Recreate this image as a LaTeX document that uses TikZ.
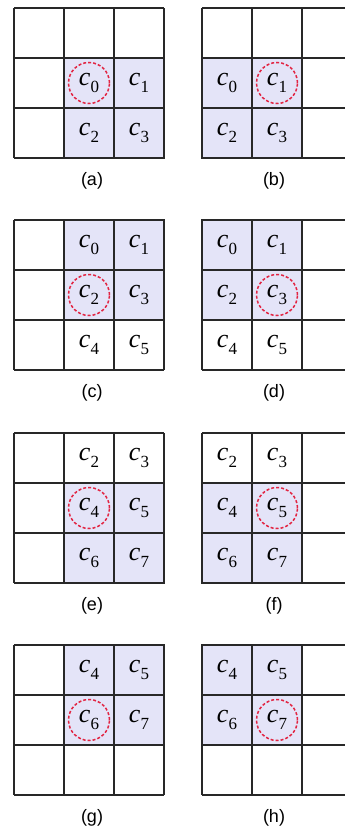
\documentclass[tikz,border=0pt]{standalone}
\usepackage{fontspec}
\setmainfont{Liberation Serif}
\setsansfont{Liberation Sans}
\definecolor{cellfill}{RGB}{228,228,248}
\definecolor{ringred}{RGB}{226,36,66}
\definecolor{gridgray}{RGB}{40,40,40}
\newcommand{\cc}[1]{\textit{c}\raisebox{-7pt}{\fontsize{17}{17}\selectfont #1}}
\tikzset{
	gridline/.style={draw=gridgray, line width=1.2pt},
	blockline/.style={draw=gridgray, line width=1.8pt},
	cellname/.style={font=\fontsize{26}{26}\selectfont, inner sep=0pt},
	pick/.style={circle, draw=ringred, line width=1.5pt, dash pattern=on 3pt off 2pt, minimum size=41pt},
	caption/.style={font=\sffamily\fontsize{18}{18}\selectfont},
}
\begin{document}
\begin{tikzpicture}[x=1pt,y=-1pt]
\useasboundingbox (0,0) rectangle (345,833);
\clip (0,0) rectangle (345,833);
\foreach \x/\y in {64/58,202/58,64/220,202/220,64/483,202/483,64/645,202/645}
	\fill[cellfill] (\x,\y) rectangle ++(100,100);
\foreach \px/\py/\lab/\lx in {14/8/a/92,202/8/b/274,14/220/c/92,202/220/d/274,14/433/e/92,202/433/f/274,14/645/g/92,202/645/h/274}{
	\foreach \k in {0,50,100,150}{
		\draw[gridline] (\px+\k,\py) -- (\px+\k,\py+150);
		\draw[gridline] (\px,\py+\k) -- (\px+150,\py+\k);
	}
	\node[caption] (cap\lab) at (\lx,\py+173) {(\lab)};
}
\foreach \x/\y in {64/58,202/58,64/220,202/220,64/483,202/483,64/645,202/645}
	\draw[blockline] (\x,\y) rectangle ++(100,100);
\node[cellname,pick] (a0) at (89,83) {\cc{0}};
\foreach \n/\x/\y in {1/139/83,2/89/133,3/139/133}
	\node[cellname] (a\n) at (\x,\y) {\cc{\n}};
\node[cellname,pick] (b1) at (277,83) {\cc{1}};
\foreach \n/\x/\y in {0/227/83,2/227/133,3/277/133}
	\node[cellname] (b\n) at (\x,\y) {\cc{\n}};
\node[cellname,pick] (c2) at (89,295) {\cc{2}};
\foreach \n/\x/\y in {0/89/245,1/139/245,3/139/295,4/89/345,5/139/345}
	\node[cellname] (c\n) at (\x,\y) {\cc{\n}};
\node[cellname,pick] (d3) at (277,295) {\cc{3}};
\foreach \n/\x/\y in {0/227/245,1/277/245,2/227/295,4/227/345,5/277/345}
	\node[cellname] (d\n) at (\x,\y) {\cc{\n}};
\node[cellname,pick] (e4) at (89,508) {\cc{4}};
\foreach \n/\x/\y in {2/89/458,3/139/458,5/139/508,6/89/558,7/139/558}
	\node[cellname] (e\n) at (\x,\y) {\cc{\n}};
\node[cellname,pick] (f5) at (277,508) {\cc{5}};
\foreach \n/\x/\y in {2/227/458,3/277/458,4/227/508,6/227/558,7/277/558}
	\node[cellname] (f\n) at (\x,\y) {\cc{\n}};
\node[cellname,pick] (g6) at (89,720) {\cc{6}};
\foreach \n/\x/\y in {4/89/670,5/139/670,7/139/720}
	\node[cellname] (g\n) at (\x,\y) {\cc{\n}};
\node[cellname,pick] (h7) at (277,720) {\cc{7}};
\foreach \n/\x/\y in {4/227/670,5/277/670,6/227/720}
	\node[cellname] (h\n) at (\x,\y) {\cc{\n}};
\end{tikzpicture}
\end{document}
